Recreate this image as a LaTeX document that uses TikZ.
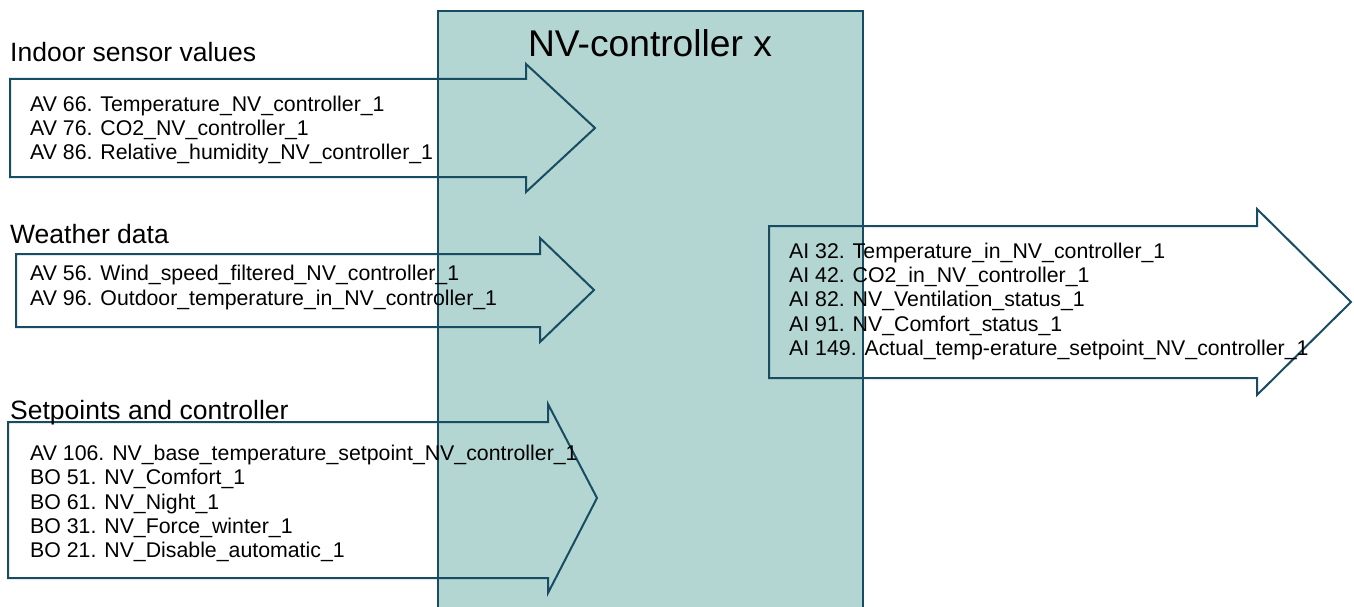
\documentclass[tikz,border=0pt]{standalone}
\usepackage{fontspec}
\setmainfont{Liberation Sans}
\definecolor{nvline}{RGB}{24,76,98}
\definecolor{nvfill}{RGB}{180,214,210}
\begin{document}
\begin{tikzpicture}[x=1pt,y=-1pt,
  ln/.style={draw=nvline, line width=2pt, line join=miter},
  item/.style={anchor=base west, inner sep=0pt, font=\fontsize{21.3}{24}\selectfont},
  lbl/.style={anchor=base west, inner sep=0pt, font=\fontsize{26.5}{30}\selectfont},
  ttl/.style={anchor=base, inner sep=0pt, font=\fontsize{37.2}{40}\selectfont}]
\useasboundingbox (0,0) rectangle (1354,607);
% controller block
\path[ln, fill=nvfill] (438,11) -- (863,11) -- (863,620) -- (438,620) -- cycle;
\node[ttl] (title) at (650,57) {NV-controller x};
% arrows
\path[ln] (10,79) -- (526,79) -- (526,64) -- (595,128) -- (526,192) -- (526,177) -- (10,177) -- cycle;
\path[ln] (16,254) -- (540,254) -- (540,238) -- (594,290) -- (540,342) -- (540,327) -- (16,327) -- cycle;
\path[ln] (8,422) -- (548,422) -- (548,404) -- (597,498) -- (548,593) -- (548,578) -- (8,578) -- cycle;
\path[ln] (769,226) -- (1257,226) -- (1257,209) -- (1351,302) -- (1257,395) -- (1257,378) -- (769,378) -- cycle;
% labels
\node[lbl] (lin) at (10,61.5) {Indoor sensor values};
\node[lbl] (lwe) at (10,243.5) {Weather data};
\node[lbl] (lsp) at (10,419.5) {Setpoints and controller};
% indoor
\node[item] (i1) at (30,111.5) {AV 66. Temperature\_NV\_controller\_1};
\node[item] (i2) at (30,135.5) {AV 76. CO2\_NV\_controller\_1};
\node[item] (i3) at (30,159.5) {AV 86. Relative\_humidity\_NV\_controller\_1};
% weather
\node[item] (w1) at (30,280.5) {AV 56. Wind\_speed\_filtered\_NV\_controller\_1};
\node[item] (w2) at (30,305.5) {AV 96. Outdoor\_temperature\_in\_NV\_controller\_1};
% setpoints
\node[item] (s1) at (30,460.5) {AV 106. NV\_base\_temperature\_setpoint\_NV\_controller\_1};
\node[item] (s2) at (30,484.8) {BO 51. NV\_Comfort\_1};
\node[item] (s3) at (30,509.1) {BO 61. NV\_Night\_1};
\node[item] (s4) at (30,533.4) {BO 31. NV\_Force\_winter\_1};
\node[item] (s5) at (30,557.7) {BO 21. NV\_Disable\_automatic\_1};
% outputs
\node[item] (o1) at (789,258.5) {AI 32. Temperature\_in\_NV\_controller\_1};
\node[item] (o2) at (789,282.7) {AI 42. CO2\_in\_NV\_controller\_1};
\node[item] (o3) at (789,306.9) {AI 82. NV\_Ventilation\_status\_1};
\node[item] (o4) at (789,331.1) {AI 91. NV\_Comfort\_status\_1};
\node[item] (o5) at (789,355.3) {AI 149. Actual\_temp-erature\_setpoint\_NV\_controller\_1};
\end{tikzpicture}
\end{document}
